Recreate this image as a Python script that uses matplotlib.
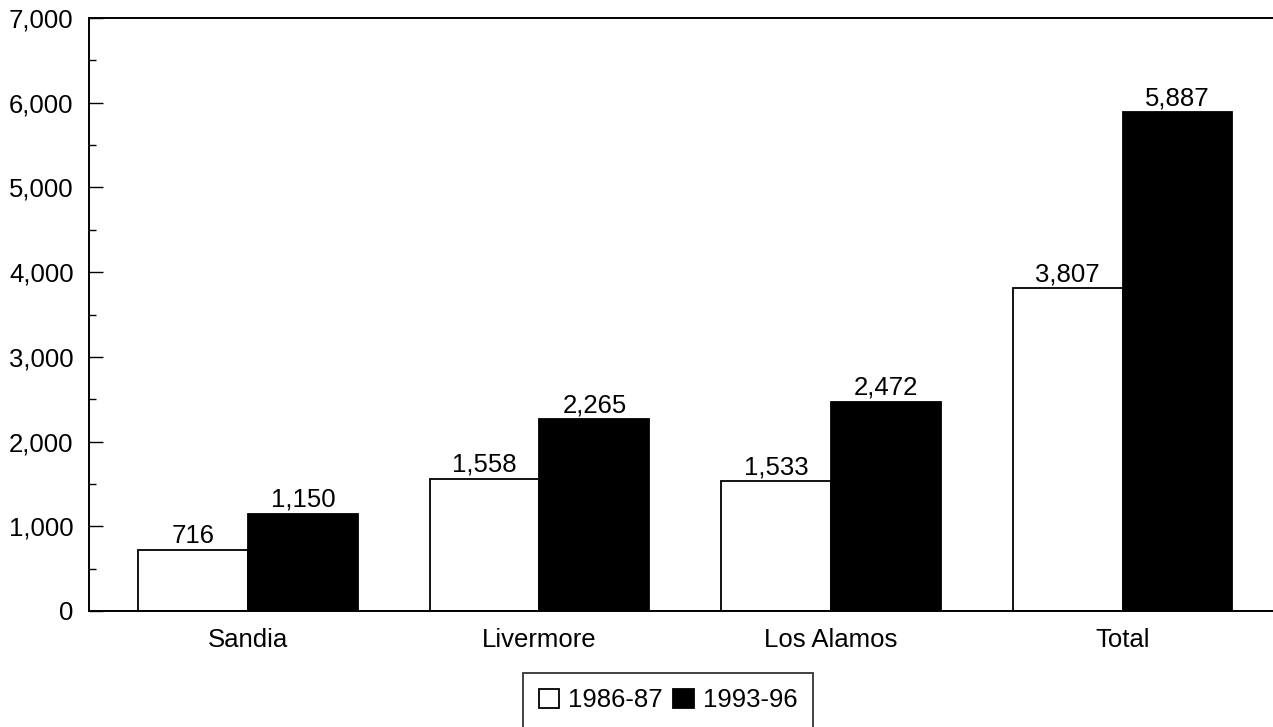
import matplotlib
matplotlib.use("agg")
import matplotlib.pyplot as plt
import numpy as np
from matplotlib.ticker import FuncFormatter, MultipleLocator

plt.rcParams["font.family"] = ["Liberation Sans", "DejaVu Sans"]

labs = ["Sandia", "Livermore", "Los Alamos", "Total"]
early = [716, 1558, 1533, 3807]
late = [1150, 2265, 2472, 5887]
series_names = ["1986-87", "1993-96"]

FS = 18.5

fig = plt.figure(figsize=(12.73, 7.27), dpi=100)
ax = fig.add_axes([89 / 1273, 1 - 611 / 727, (1280 - 89) / 1273, (611 - 18) / 727])

x = np.arange(len(labs))
w = 0.377
b1 = ax.bar(x - w / 2, early, w, color="white", edgecolor="black", linewidth=1.3,
            label=series_names[0])
b2 = ax.bar(x + w / 2, late, w, color="black", edgecolor="black", linewidth=1.3,
            label=series_names[1])

for bars, vals in ((b1, early), (b2, late)):
    for r, v in zip(bars, vals):
        ax.text(r.get_x() + r.get_width() / 2, v + 25, f"{v:,}", ha="center", va="bottom",
                fontsize=FS)

ax.set_xlim(-0.545, 3.54)
ax.set_ylim(0, 7000)
ax.yaxis.set_major_locator(MultipleLocator(1000))
ax.yaxis.set_minor_locator(MultipleLocator(500))
ax.yaxis.set_major_formatter(FuncFormatter(lambda v, p: f"{int(v):,}"))
ax.set_xticks(x)
ax.set_xticklabels(labs)
ax.tick_params(axis="y", which="major", direction="in", length=10, width=1, labelsize=FS, pad=11)
ax.tick_params(axis="y", which="minor", direction="in", length=5, width=1)
ax.tick_params(axis="x", length=0, labelsize=FS, pad=12)
for s in ax.spines.values():
    s.set_linewidth(1.4)
ax.spines["right"].set_visible(False)

leg = fig.legend(handles=[b1, b2], loc="upper center", bbox_to_anchor=(668 / 1273, 1 - 673 / 727),
                 ncol=2, fontsize=FS, frameon=True, fancybox=False, edgecolor="black",
                 handlelength=0.8, handleheight=0.8, handletextpad=0.35, columnspacing=0.4,
                 borderpad=0.6, borderaxespad=0)
leg.get_frame().set_linewidth(1.3)

fig.savefig("out.png", dpi=100, facecolor="white")
